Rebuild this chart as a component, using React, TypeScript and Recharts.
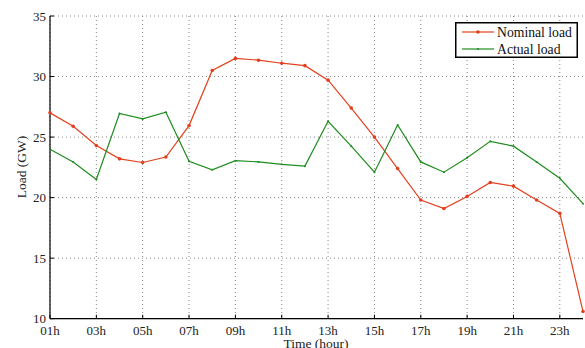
import React from "react"
import {
  LineChart,
  Line,
  XAxis,
  YAxis,
  CartesianGrid,
  Label
} from "recharts"

// hourly load, GW
const hours = [1, 2, 3, 4, 5, 6, 7, 8, 9, 10, 11, 12, 13, 14, 15, 16, 17, 18, 19, 20, 21, 22, 23, 24]
const nominalLoad = [
  27.0, 25.9, 24.3, 23.2, 22.9, 23.35, 25.95, 30.5, 31.5, 31.35, 31.1, 30.9,
  29.7, 27.4, 25.0, 22.4, 19.8, 19.1, 20.1, 21.25, 20.95, 19.8, 18.7, 10.6
]
const actualLoad = [
  24.0, 22.95, 21.5, 26.95, 26.5, 27.05, 23.0, 22.3, 23.05, 22.95, 22.75, 22.6,
  26.3, 24.25, 22.1, 26.0, 22.95, 22.1, 23.3, 24.65, 24.25, 22.95, 21.6, 19.5
]
const xTicks = [1, 3, 5, 7, 9, 11, 13, 15, 17, 19, 21, 23]
const yTicks = [10, 15, 20, 25, 30, 35]

const RED = "#e3401f"
const GREEN = "#1f8c1f"
const FONT = "'Liberation Serif', 'DejaVu Serif', serif"

const data = hours.map((h, i) => ({
  hour: h,
  nominal: nominalLoad[i],
  actual: actualLoad[i]
}))

const fmtHour = (h: number) => (h < 10 ? "0" + h : "" + h) + "h"

// ticks point inward, matlab style
const BottomTick = (props: any) => {
  const { x, y, payload } = props
  const axisY = y - 2
  return (
    <g>
      <line x1={x} x2={x} y1={axisY} y2={axisY - 4} stroke="#000" strokeWidth={1} />
      <text x={x} y={axisY + 16} textAnchor="middle" fontSize={13} fontFamily={FONT} fill="#222">
        {fmtHour(payload.value)}
      </text>
    </g>
  )
}

const LeftTick = (props: any) => {
  const { x, y, payload } = props
  const axisX = x + 2
  return (
    <g>
      <line x1={axisX} x2={axisX + 4} y1={y} y2={y} stroke="#000" strokeWidth={1} />
      <text x={axisX - 4} y={y + 4.5} textAnchor="end" fontSize={13} fontFamily={FONT} fill="#222">
        {payload.value}
      </text>
    </g>
  )
}

const LegendBox = () => (
  <svg width={123} height={36} style={{ display: "block" }}>
    <rect x={0.75} y={0.75} width={121.5} height={34.5} fill="#fff" stroke="#000" strokeWidth={1.5} />
    <line x1={7} x2={39} y1={10} y2={10} stroke={RED} strokeWidth={1.2} />
    <circle cx={23} cy={10} r={1.8} fill={RED} />
    <text x={42} y={14.5} fontSize={13.7} fontFamily={FONT} fill="#111">Nominal load</text>
    <line x1={7} x2={39} y1={27} y2={27} stroke={GREEN} strokeWidth={1.2} />
    <circle cx={23} cy={27} r={1} fill={GREEN} />
    <text x={42} y={31.5} fontSize={13.7} fontFamily={FONT} fill="#111">Actual load</text>
  </svg>
)

export default function App() {
  return (
    <div style={{ position: "absolute", left: 0, top: 0, width: 585, height: 348, background: "#fff", overflow: "hidden" }}>
      <LineChart
        width={585}
        height={348}
        data={data}
        margin={{ top: 16, right: 2, left: 0, bottom: 0 }}
      >
        <CartesianGrid stroke="#888" strokeDasharray="1 3" horizontalValues={yTicks} verticalValues={xTicks} />
        <XAxis
          dataKey="hour"
          type="number"
          domain={[1, 24]}
          ticks={xTicks}
          interval={0}
          height={29.3}
          tickSize={0}
          tickMargin={2}
          tickLine={false}
          axisLine={{ stroke: "#000", strokeWidth: 1.2 }}
          tick={<BottomTick />}
        >
          <Label
            content={() => (
              <text x={316} y={348} textAnchor="middle" fontSize={13.5} fontFamily={FONT} fill="#222">
                Time (hour)
              </text>
            )}
          />
        </XAxis>
        <YAxis
          type="number"
          domain={[10, 35]}
          ticks={yTicks}
          interval={0}
          width={50}
          tickSize={0}
          tickMargin={2}
          tickLine={false}
          axisLine={{ stroke: "#000", strokeWidth: 1.2 }}
          tick={<LeftTick />}
        >
          <Label
            content={() => (
              <text
                x={26}
                y={167}
                textAnchor="middle"
                fontSize={13.5}
                fontFamily={FONT}
                fill="#222"
                transform="rotate(-90, 26, 167)"
              >
                Load (GW)
              </text>
            )}
          />
        </YAxis>
        <Line
          dataKey="nominal"
          name="Nominal load"
          stroke={RED}
          strokeWidth={1.2}
          dot={{ r: 1.8, fill: RED, stroke: RED, strokeWidth: 0 }}
          activeDot={false}
          isAnimationActive={false}
        />
        <Line
          dataKey="actual"
          name="Actual load"
          stroke={GREEN}
          strokeWidth={1.2}
          dot={{ r: 1, fill: GREEN, stroke: GREEN, strokeWidth: 0 }}
          activeDot={false}
          isAnimationActive={false}
        />
      </LineChart>
      <div style={{ position: "absolute", left: 455, top: 22 }}>
        <LegendBox />
      </div>
    </div>
  )
}
